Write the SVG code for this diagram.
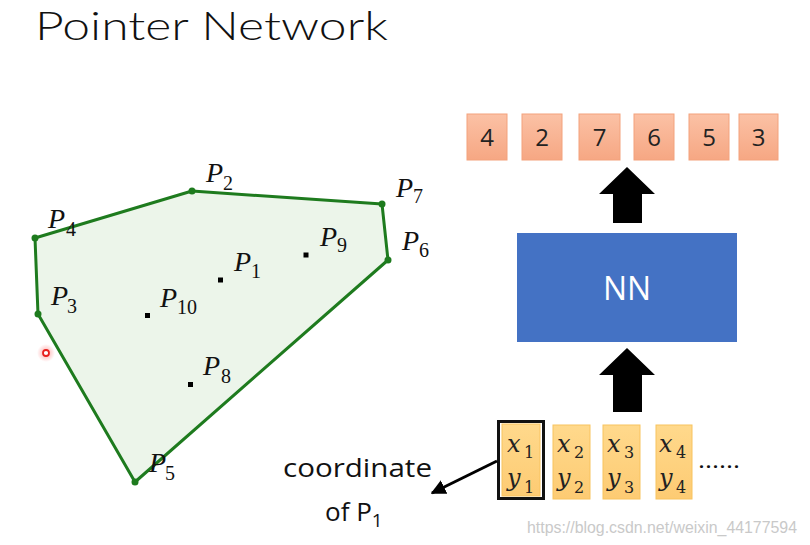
<svg xmlns="http://www.w3.org/2000/svg" width="810" height="545" viewBox="0 0 810 545">
<defs>
<linearGradient id="gOut" x1="0" y1="0" x2="0" y2="1"><stop offset="0" stop-color="#FBC1A5"/><stop offset="1" stop-color="#F6A783"/></linearGradient>
<linearGradient id="gIn" x1="0" y1="0" x2="0" y2="1"><stop offset="0" stop-color="#FFD98C"/><stop offset="1" stop-color="#FDCB73"/></linearGradient>
<marker id="ah" viewBox="0 0 10 10" refX="9" refY="5" markerWidth="5" markerHeight="5" orient="auto-start-reverse"><path d="M0,0 L10,5 L0,10 z" fill="#000"/></marker>
<radialGradient id="halo"><stop offset="0" stop-color="#ff6b6b" stop-opacity="0.6"/><stop offset="1" stop-color="#ff6b6b" stop-opacity="0"/></radialGradient>
</defs>
<style>
.pl{font-family:"Liberation Serif",serif;font-style:italic;font-size:28px;fill:#111}
.ps{font-family:"Liberation Serif",serif;font-style:normal;font-size:20px;fill:#111}
.vd{fill:#1E7B1E}
.ip{fill:#000}
.ob{fill:url(#gOut);stroke:#F3A27C;stroke-width:1}
.od{font-family:"Open Sans","Liberation Sans",sans-serif;font-size:24px;fill:#222;text-anchor:middle}
.ib{fill:url(#gIn);stroke:#F8C35E;stroke-width:1}
.xv{font-family:"DejaVu Serif",serif;font-style:italic;font-size:24px;fill:#222}
.xs{font-family:"DejaVu Serif",serif;font-style:normal;font-size:16px;fill:#222}
.lbl{font-family:"Open Sans","Liberation Sans",sans-serif;font-size:26px;fill:#111}
</style>
<rect width="810" height="545" fill="#fff"/>
<text x="35" y="40" font-family="Lato, Open Sans, sans-serif" font-size="40" font-weight="300" fill="#111" textLength="353" lengthAdjust="spacingAndGlyphs">Pointer Network</text>

<g id="hull">
<polygon points="35,238 192,191 382,204 388,260 135,482 38,314" fill="#ECF5EA" stroke="#1E7B1E" stroke-width="3" stroke-linejoin="round"/>
<circle class="vd" cx="35" cy="238" r="3.5"/><circle class="vd" cx="192" cy="191" r="3.5"/><circle class="vd" cx="382" cy="204" r="3.5"/><circle class="vd" cx="388" cy="260" r="3.5"/><circle class="vd" cx="135" cy="482" r="3.5"/><circle class="vd" cx="38" cy="314" r="3.5"/>
<rect class="ip" x="218" y="277.5" width="5" height="5"/><rect class="ip" x="303.5" y="252.5" width="5" height="5"/><rect class="ip" x="145" y="313" width="5" height="5"/><rect class="ip" x="188" y="382" width="5" height="5"/>
</g>
<g id="point-labels">
<text class="pl" x="206" y="182">P<tspan class="ps" x="223" y="190">2</tspan></text>
<text class="pl" x="396" y="197">P<tspan class="ps" x="413" y="203">7</tspan></text>
<text class="pl" x="402" y="250">P<tspan class="ps" x="419" y="257">6</tspan></text>
<text class="pl" x="320" y="246">P<tspan class="ps" x="337" y="252">9</tspan></text>
<text class="pl" x="234" y="271">P<tspan class="ps" x="251" y="278">1</tspan></text>
<text class="pl" x="48" y="228">P<tspan class="ps" x="66" y="236">4</tspan></text>
<text class="pl" x="51" y="305">P<tspan class="ps" x="67" y="313">3</tspan></text>
<text class="pl" x="160" y="307">P<tspan class="ps" x="177" y="314">10</tspan></text>
<text class="pl" x="203" y="375">P<tspan class="ps" x="221" y="383">8</tspan></text>
<text class="pl" x="149" y="472">P<tspan class="ps" x="165" y="480">5</tspan></text>
</g>
<g id="cursor">
<circle cx="46" cy="353" r="9" fill="url(#halo)"/>
<circle cx="46" cy="353" r="3" fill="#fff" stroke="#E8201E" stroke-width="1.8"/>
</g>

<g id="outputs">
<rect class="ob" x="467" y="114" width="40" height="46"/><text class="od" x="487" y="146">4</text>
<rect class="ob" x="522" y="114" width="40" height="46"/><text class="od" x="542" y="146">2</text>
<rect class="ob" x="579" y="114" width="41" height="46"/><text class="od" x="599.5" y="146">7</text>
<rect class="ob" x="634" y="114" width="40" height="46"/><text class="od" x="654" y="146">6</text>
<rect class="ob" x="689" y="114" width="40" height="46"/><text class="od" x="709" y="146">5</text>
<rect class="ob" x="739" y="114" width="39" height="46"/><text class="od" x="758.5" y="146">3</text>
</g>

<g id="nn">
<rect x="517" y="233" width="220" height="109" fill="#4472C4"/>
<text x="627" y="300" font-family="Open Sans, Liberation Sans, sans-serif" font-size="32" fill="#fff" text-anchor="middle">NN</text>
</g>

<g id="inputs">
<rect class="ib" x="502" y="424" width="38" height="72"/>
<rect x="498.5" y="421.5" width="45" height="77" fill="none" stroke="#111" stroke-width="3"/>
<text class="xv" x="507" y="452">x<tspan class="xs" x="524" y="458">1</tspan></text>
<text class="xv" x="507" y="486">y<tspan class="xs" x="524" y="493">1</tspan></text>
<rect class="ib" x="553" y="425" width="37" height="74"/>
<text class="xv" x="557" y="452">x<tspan class="xs" x="574" y="458">2</tspan></text>
<text class="xv" x="557" y="486">y<tspan class="xs" x="574" y="493">2</tspan></text>
<rect class="ib" x="603" y="425" width="37" height="74"/>
<text class="xv" x="607" y="452">x<tspan class="xs" x="624" y="458">3</tspan></text>
<text class="xv" x="607" y="486">y<tspan class="xs" x="624" y="493">3</tspan></text>
<rect class="ib" x="656" y="425" width="36" height="74"/>
<text class="xv" x="659" y="452">x<tspan class="xs" x="676" y="458">4</tspan></text>
<text class="xv" x="659" y="486">y<tspan class="xs" x="676" y="493">4</tspan></text>
<text x="698" y="468" font-family="Open Sans, Liberation Sans, sans-serif" font-size="22" fill="#111" textLength="42" lengthAdjust="spacingAndGlyphs">......</text>
</g>

<g id="connectors">
<polygon points="627,167 655,194 642,194 642,223 613,223 613,194 599,194" fill="#000"/>
<polygon points="627,348 655,375 642,375 642,412 613,412 613,375 599,375" fill="#000"/>
<line x1="497" y1="461" x2="432" y2="493" stroke="#000" stroke-width="3" marker-end="url(#ah)"/>
</g>

<g id="caption">
<text class="lbl" x="283" y="477" textLength="149" lengthAdjust="spacingAndGlyphs">coordinate</text>
<text class="lbl" x="325" y="521">of P<tspan font-size="19" dy="6">1</tspan></text>
</g>

<text x="527" y="533" font-family="Liberation Sans, Arial, sans-serif" font-size="16" fill="#C9C9C9" textLength="270" lengthAdjust="spacingAndGlyphs">https://blog.csdn.net/weixin_44177594</text>
</svg>
